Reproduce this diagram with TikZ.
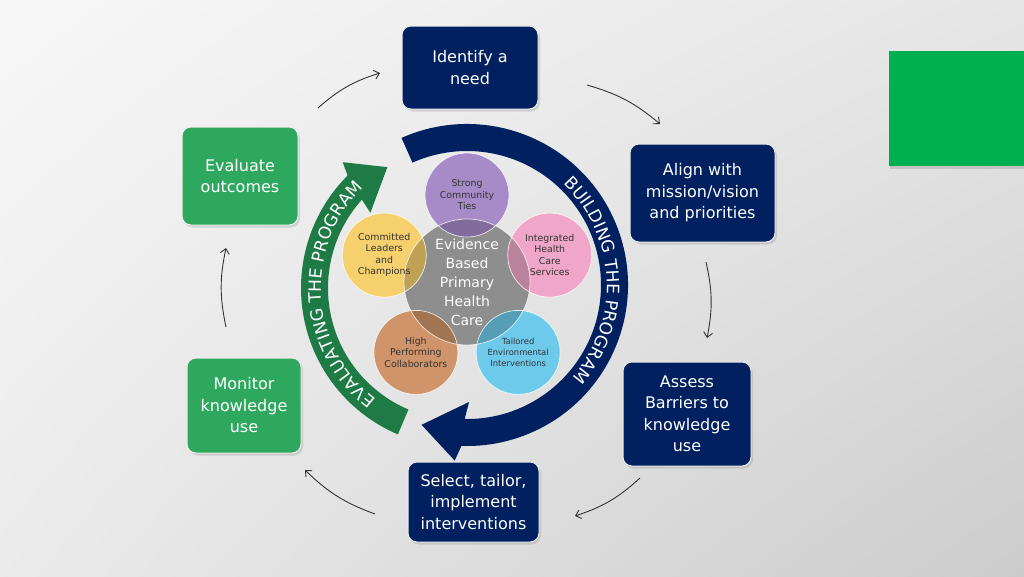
\documentclass[tikz,border=0pt]{standalone}
\usepackage{fontspec}
\setmainfont{DejaVu Sans}
\usetikzlibrary{arrows.meta, positioning, shadows, shadings, decorations.text}
\definecolor{ppNavy}{HTML}{002060}
\definecolor{ppGreen}{HTML}{2EA85F}
\definecolor{ringGreen}{HTML}{1E7B46}
\definecolor{ppSquare}{HTML}{00B050}
\definecolor{circGray}{HTML}{8E8E8E}
\definecolor{circPurple}{HTML}{A78BC8}
\definecolor{circPink}{HTML}{F0A6C8}
\definecolor{circBlue}{HTML}{6ECAEB}
\definecolor{circBrown}{HTML}{CF9469}
\definecolor{circYellow}{HTML}{F5D06C}
\definecolor{textDark}{HTML}{333333}
\definecolor{arrowGray}{HTML}{333333}
\tikzset{
  stepNavy/.style={rectangle, rounded corners=9pt, draw=white!85!gray, line width=1pt,
                   fill=ppNavy, text=white, align=center, font=\fontsize{16}{21.5}\selectfont,
                   drop shadow={opacity=0.25, shadow xshift=2pt, shadow yshift=-2.5pt}},
  stepGreen/.style={stepNavy, fill=ppGreen},
  accentSquare/.style={rectangle, fill=ppSquare, inner sep=0pt,
                   drop shadow={opacity=0.3, shadow xshift=1pt, shadow yshift=-3pt}},
  flowArrow/.style={-{Straight Barb[length=5pt, width=9pt]}, arrowGray, line width=0.9pt},
  coreDisc/.style={circle, fill=circGray, minimum size=126pt, inner sep=0pt},
  petal/.style={circle, minimum size=84pt, inner sep=0pt},
  petalText/.style={text=textDark, align=center, font=\fontsize{9.4}{11.5}\selectfont, inner sep=0pt},
  coreText/.style={text=white, align=center, font=\fontsize{14}{19}\selectfont, inner sep=0pt},
}

\begin{document}
\begin{tikzpicture}[x=1pt, y=-1pt]
  \useasboundingbox (0,0) rectangle (1024,576);
  \shade[upper left=gray!6, upper right=gray!20, lower left=gray!16, lower right=gray!40]
    (0,0) rectangle (1024,576);

  % process steps
  \node[stepNavy, minimum width=136pt, minimum height=83pt] (ident) at (470,67.5) {Identify a\\need};
  \node[stepNavy, minimum width=145pt, minimum height=98pt] (align) at (702.5,193) {Align with\\mission/vision\\and priorities};
  \node[stepNavy, minimum width=128pt, minimum height=104pt] (assess) at (687,414) {Assess\\Barriers to\\knowledge\\use};
  \node[stepNavy, minimum width=131pt, minimum height=80pt] (select) at (473.5,502) {Select, tailor,\\implement\\interventions};
  \node[stepGreen, minimum width=114pt, minimum height=95pt] (monitor) at (244,405.5) {Monitor\\knowledge\\use};
  \node[stepGreen, minimum width=116pt, minimum height=98pt] (evaluate) at (240,176) {Evaluate\\outcomes};
  \node[accentSquare, minimum width=136pt, minimum height=115pt] (accent) at (957,108.5) {};

  % arrows between steps
  \coordinate (e2iS) at (318,108);  \coordinate (e2iE) at (380,73);
  \coordinate (i2aS) at (587,85);   \coordinate (i2aE) at (660,124);
  \coordinate (a2bS) at (706,262);  \coordinate (a2bE) at (707,338);
  \coordinate (b2sS) at (640,478);  \coordinate (b2sE) at (575,516);
  \coordinate (s2mS) at (375,514);  \coordinate (s2mE) at (305,470);
  \coordinate (m2eS) at (226,327);  \coordinate (m2eE) at (226,248);
  \foreach \s/\e in {e2iS/e2iE, i2aS/i2aE, a2bS/a2bE, b2sS/b2sE, s2mS/s2mE, m2eS/m2eE}
    \draw[flowArrow] (\s) to[bend left=12] (\e);

  % building ring
  \begin{scope}[shift={(467,285)}]
    \fill[ppNavy] (-114:161) arc[start angle=-114, end angle=92, radius=161]
      -- (94:176) -- (108:147) -- (89:117) -- (91:134)
      arc[start angle=91, end angle=-114, radius=134] -- cycle;
    \path[decorate, decoration={text along path, text align=center,
        text={|\fontsize{17}{17}\selectfont\color{white}|BUILDING THE PROGRAM}}]
      (-48:140) arc[start angle=-48, end angle=43, radius=140];
  \end{scope}

  % evaluating ring
  \begin{scope}[shift={(460,288)}]
    \fill[ringGreen] (-247:159) arc[start angle=-247, end angle=-135, radius=159]
      -- (-133:172) -- (-121:141) -- (-140:117) -- (-138:132)
      arc[start angle=-138, end angle=-247, radius=132] -- cycle;
    \path[decorate, decoration={text along path, text align=center,
        text={|\fontsize{17}{17}\selectfont\color{white}|EVALUATING THE PROGRAM}}]
      (-240:139) arc[start angle=-240, end angle=-127, radius=139];
  \end{scope}

  % circles
  \node[coreDisc] (core) at (467,282) {};
  \foreach \name/\ang/\col in {ties/-90/circPurple, integ/-18/circPink, tailor/54/circBlue,
                               collab/126/circBrown, leader/198/circYellow}
    \path (core.center) ++(\ang:87) node[petal, fill=\col] (\name) {};
  \begin{scope}
    \clip (core.center) circle[radius=63];
    \foreach \name/\col in {ties/circPurple, integ/circPink, tailor/circBlue,
                            collab/circBrown, leader/circYellow}
      \fill[\col!78!black] (\name.center) circle[radius=42];
  \end{scope}
  \draw[white, line width=0.7pt, opacity=0.8] (core.center) circle[radius=63];
  \foreach \name in {ties, integ, tailor, collab, leader}
    \draw[white, line width=0.7pt, opacity=0.8] (\name.center) circle[radius=42];

  \node[petalText] (tTies) at (ties) {Strong\\Community\\Ties};
  \node[petalText] (tInteg) at (integ) {Integrated\\Health\\Care\\Services};
  \node[petalText, font=\fontsize{8.4}{11}\selectfont] (tTailor) at (tailor) {Tailored\\Environmental\\Interventions};
  \node[petalText] (tCollab) at (collab) {High\\Performing\\Collaborators};
  \node[petalText] (tLeader) at (leader) {Committed\\Leaders\\and\\Champions};
  \node[coreText] (tCore) at (core) {Evidence\\Based\\Primary\\Health\\Care};
\end{tikzpicture}
\end{document}
